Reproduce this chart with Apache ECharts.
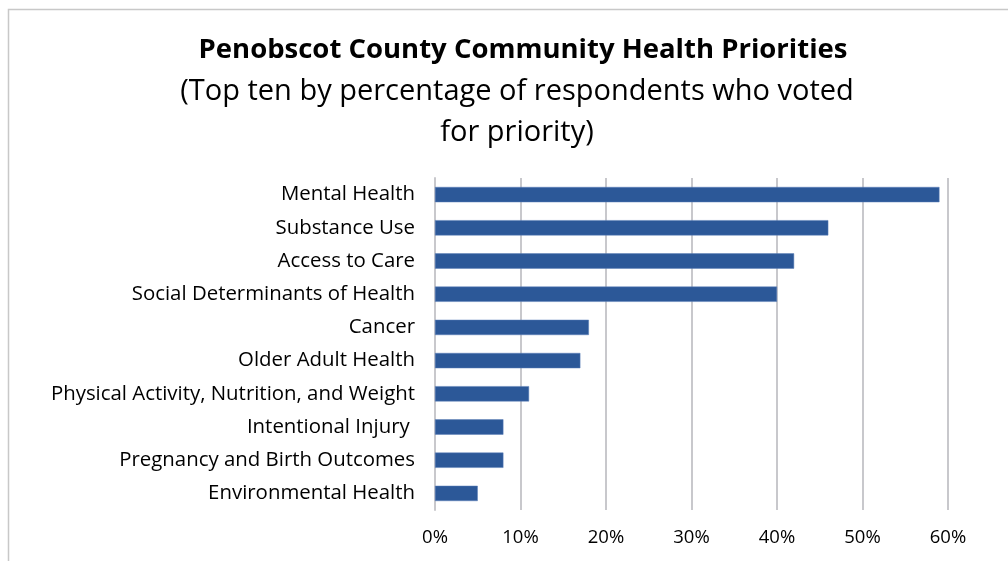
<!DOCTYPE html>
<html><head><meta charset="utf-8">
<script src="https://cdn.jsdelivr.net/npm/echarts@6/dist/echarts.min.js"></script>
<style>html,body{margin:0;padding:0;background:#fff}#c{width:1008px;height:561px}</style>
</head><body><div id="c"></div>
<script>
const categories = ["Mental Health","Substance Use","Access to Care","Social Determinants of Health","Cancer","Older Adult Health","Physical Activity, Nutrition, and Weight","Intentional Injury ","Pregnancy and Birth Outcomes","Environmental Health"];
const values = [59,46,42,40,18,17,11,8,8,5];
const titleText = "Penobscot County Community Health Priorities";
const subtitleText = "(Top ten by percentage of respondents who voted\nfor priority)";
const ff = "Open Sans";
const chart = echarts.init(document.getElementById('c'), null, {renderer:'canvas'});
chart.setOption({
  animation:false,
  backgroundColor:'#fff',
  graphic:[{type:'rect',shape:{x:8.5,y:9.5,width:1100,height:700},style:{fill:'none',stroke:'#c8c8c8',lineWidth:1.5},silent:true}],
  title:[{text:titleText,left:518,textAlign:'center',top:31,textStyle:{fontFamily:ff,fontWeight:'bold',fontSize:27.5,color:'#000'}},
         {text:subtitleText,left:512,textAlign:'center',top:66,textStyle:{fontFamily:ff,fontWeight:'normal',fontSize:29,lineHeight:41,color:'#000',align:'center'}}],
  grid:{left:435,right:60,top:178,bottom:51,containLabel:false},
  xAxis:{type:'value',min:0,max:60,interval:10,
    axisLabel:{formatter:'{value}%',fontFamily:ff,fontSize:18.5,color:'#000',margin:18},
    splitLine:{show:true,lineStyle:{color:'#c8c8cc',width:2}},
    axisLine:{show:false},axisTick:{show:false}},
  yAxis:{type:'category',data:categories,inverse:true,
    axisLabel:{fontFamily:ff,fontSize:20.4,color:'#000',margin:20,padding:[3,0,0,0]},
    axisLine:{show:true,lineStyle:{color:'#c8c8cc',width:2}},axisTick:{show:false}},
  series:[{type:'bar',data:values,barWidth:'46%',itemStyle:{color:'#2c5898',borderColor:'#5a7fb8',borderWidth:0.5}}]
});
</script></body></html>
